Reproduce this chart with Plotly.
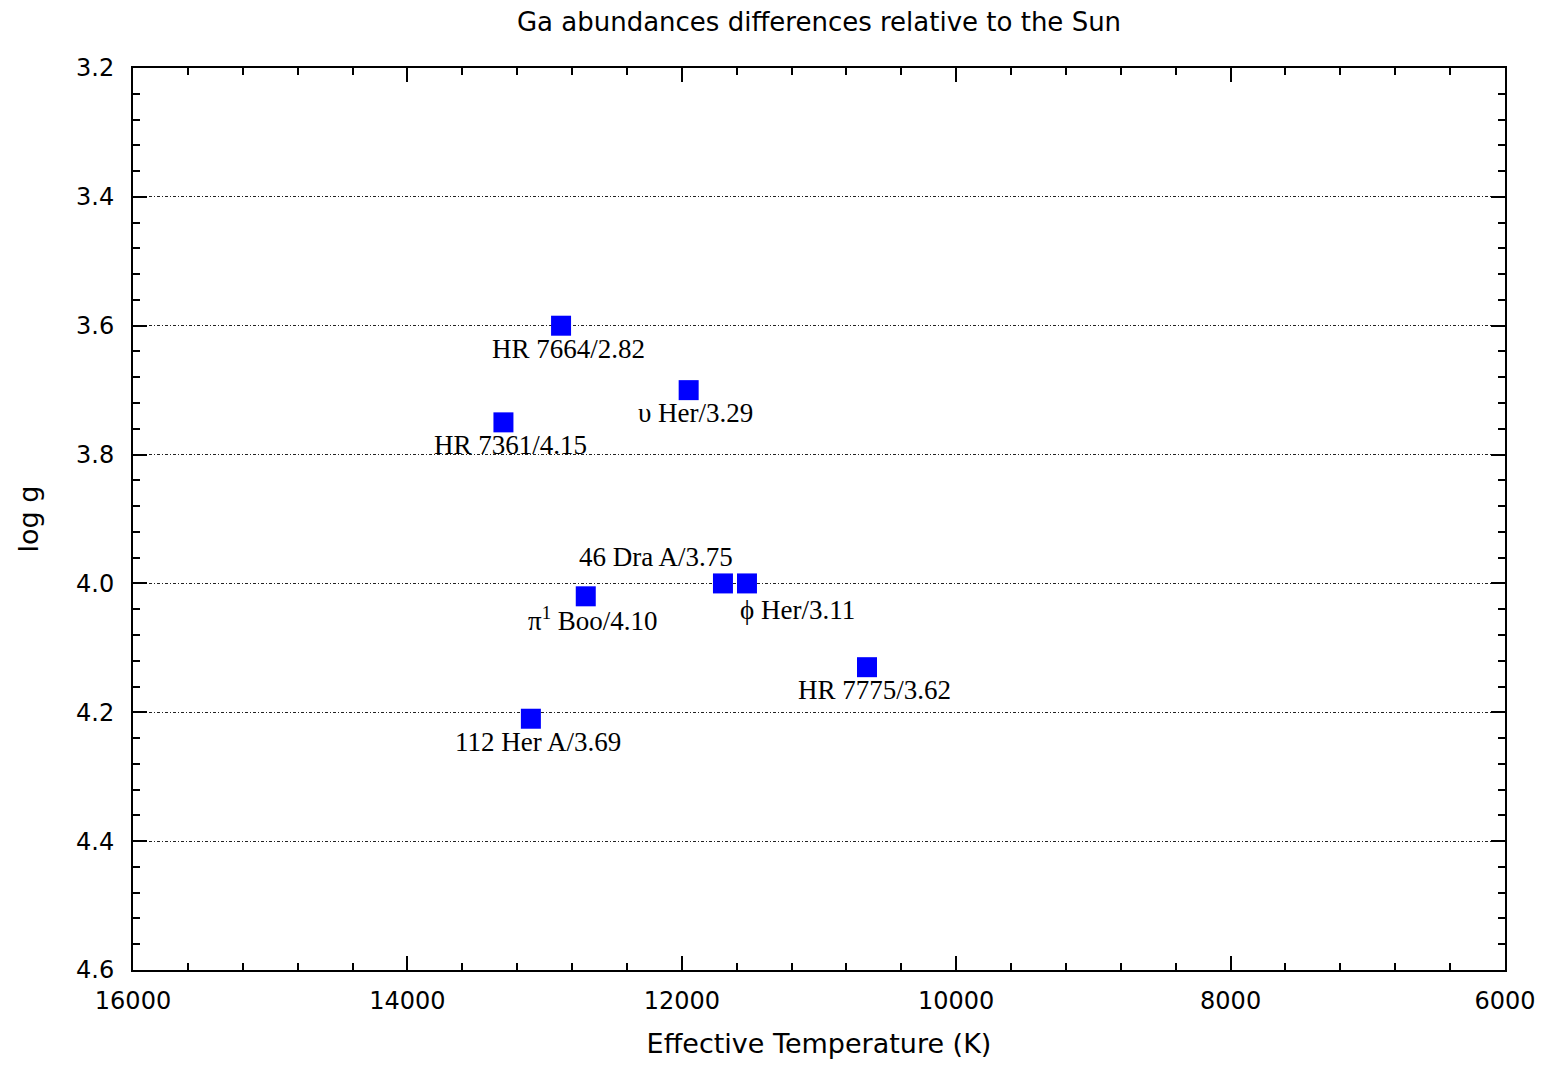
import plotly.graph_objects as go

# Star sample: effective temperature (K), surface gravity and Ga abundance label
stars = ["HR 7664", "υ Her", "HR 7361", "π<sup>1</sup> Boo", "46 Dra A",
         "ϕ Her", "HR 7775", "112 Her A"]
teff = [12880, 11950, 13300, 12700, 11700, 11525, 10650, 13100]
logg = [3.60, 3.70, 3.75, 4.02, 4.00, 4.00, 4.13, 4.21]
ga_diff = ["2.82", "3.29", "4.15", "4.10", "3.75", "3.11", "3.62", "3.69"]

x_ticks = [16000, 14000, 12000, 10000, 8000, 6000]
y_ticks = [3.2, 3.4, 3.6, 3.8, 4.0, 4.2, 4.4, 4.6]

# label placement relative to each marker (pixels)
label_shift = {
    "46 Dra A": (-67, 26),
    "ϕ Her": (51, -27),
}
default_shift = (7, -23)

fig = go.Figure()
fig.add_trace(go.Scatter(
    x=teff, y=logg, mode="markers",
    marker=dict(symbol="square", size=20, color="#0000ff", line=dict(width=0)),
    hoverinfo="skip", showlegend=False,
))

for name, t, g, d in zip(stars, teff, logg, ga_diff):
    dx, dy = label_shift.get(name, default_shift)
    fig.add_annotation(
        x=t, y=g, xref="x", yref="y", text=f"{name}/{d}",
        showarrow=False, xshift=dx, yshift=dy,
        font=dict(family="Liberation Serif", size=27, color="black"),
    )

sans = "DejaVu Sans"
fig.update_layout(
    width=1555, height=1065,
    margin=dict(l=133, r=50, t=68, b=95),
    paper_bgcolor="white", plot_bgcolor="white",
    title=dict(text="Ga abundances differences relative to the Sun",
               x=0.5, xref="paper", y=0.979, yanchor="middle",
               font=dict(family=sans, size=26, color="black")),
    font=dict(family=sans, size=24, color="black"),
)

fig.update_xaxes(
    range=[16000, 6000], tickvals=x_ticks, ticktext=[str(v) for v in x_ticks],
    ticks="inside", ticklen=14, tickwidth=2, tickcolor="black",
    ticklabelstandoff=8,
    minor=dict(dtick=400, tick0=6000, ticks="inside", ticklen=7, tickwidth=2,
               tickcolor="black", showgrid=False),
    showline=True, linecolor="black", linewidth=2, mirror="ticks",
    showgrid=False, zeroline=False,
    title=dict(text="Effective Temperature (K)", standoff=20,
               font=dict(family=sans, size=27)),
    tickfont=dict(family=sans, size=24),
)

fig.update_yaxes(
    range=[4.6, 3.2], tickvals=y_ticks, ticktext=[f"{v:.1f}" for v in y_ticks],
    ticks="inside", ticklen=14, tickwidth=2, tickcolor="black",
    ticklabelstandoff=12,
    minor=dict(dtick=0.04, tick0=3.2, ticks="inside", ticklen=7, tickwidth=2,
               tickcolor="black", showgrid=False),
    showline=True, linecolor="black", linewidth=2, mirror="ticks",
    showgrid=True, gridcolor="#222222", gridwidth=1, griddash="3px,2px,1px,2px",
    zeroline=False,
    title=dict(text="log g", standoff=30, font=dict(family=sans, size=27)),
    tickfont=dict(family=sans, size=24),
)

fig.write_html("out.html")
